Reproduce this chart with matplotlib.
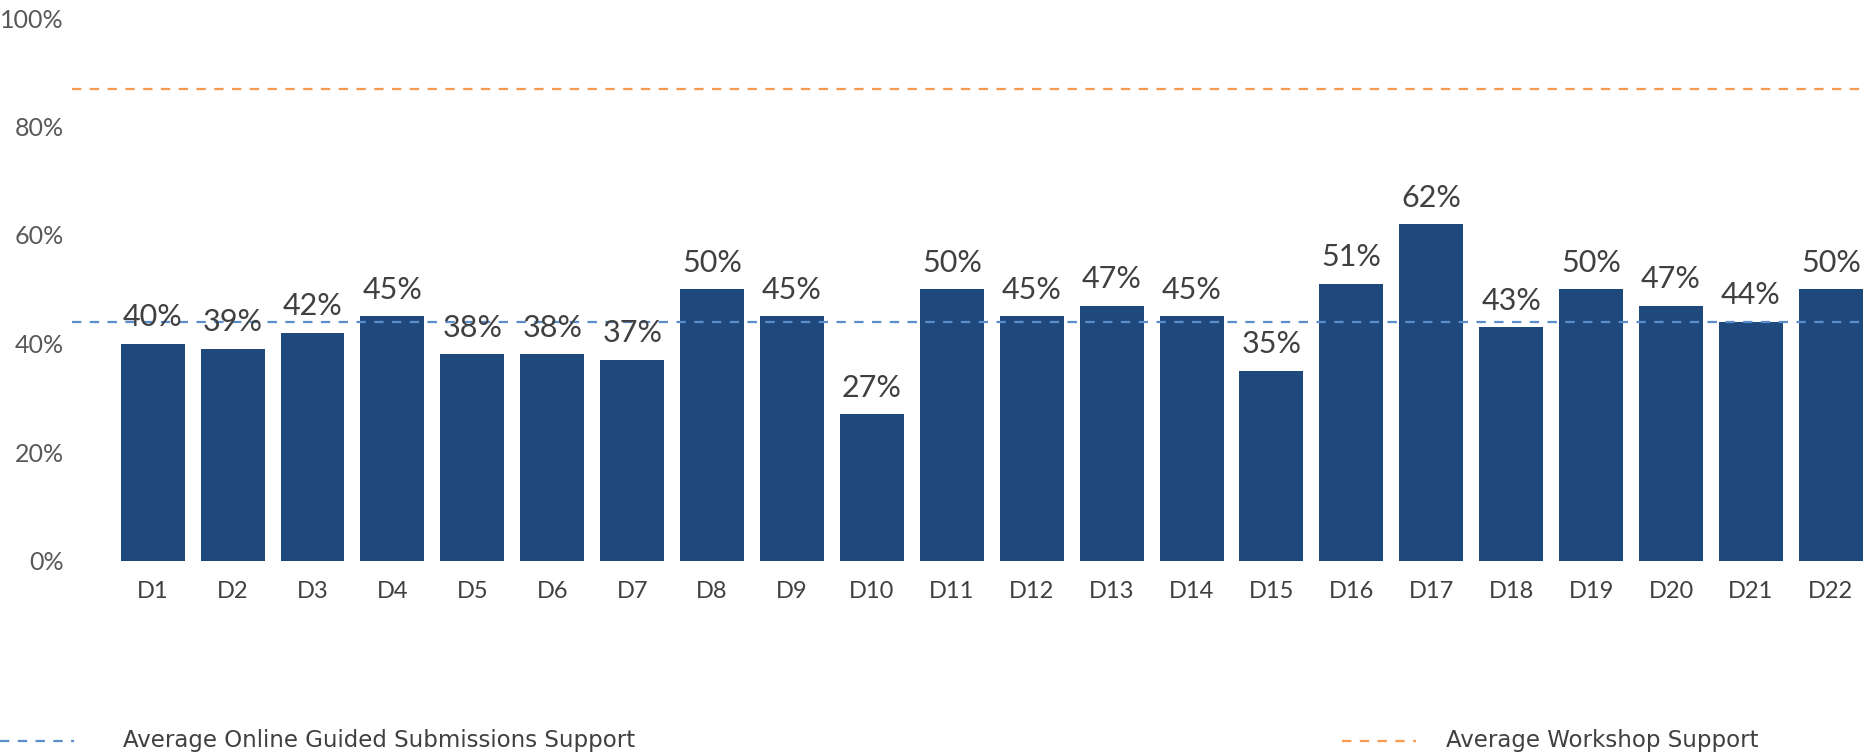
import matplotlib
matplotlib.use("Agg")
from matplotlib import pyplot as plt
from matplotlib.lines import Line2D

plt.rcParams['font.family'] = ['Lato', 'DejaVu Sans']

# chart data
districts = ['D1', 'D2', 'D3', 'D4', 'D5', 'D6', 'D7', 'D8', 'D9', 'D10', 'D11',
             'D12', 'D13', 'D14', 'D15', 'D16', 'D17', 'D18', 'D19', 'D20', 'D21', 'D22']
support = [40, 39, 42, 45, 38, 38, 37, 50, 45, 27, 50,
           45, 47, 45, 35, 51, 62, 43, 50, 47, 44, 50]
avg_online = 44
avg_workshop = 87
y_ticks = [0, 20, 40, 60, 80, 100]

bar_color = '#1f497d'
online_color = '#5b8ccc'
workshop_color = '#f79a4f'

W, H = 1866, 756
fig = plt.figure(figsize=(W / 100, H / 100), dpi=100)
# axes placed in pixel terms: 0% at y=560, 100% at y=18, x from 72 to right edge
ax = fig.add_axes([72 / W, (H - 560.5) / H, (W - 72) / W, (560.5 - 18) / H])

x = list(range(len(districts)))
ax.bar(x, support, width=0.8, color=bar_color, zorder=2)

ax.axhline(avg_workshop, color=workshop_color, lw=1.6, dashes=(4.2, 3.8), zorder=3)
ax.axhline(avg_online, color=online_color, lw=1.6, dashes=(4.2, 3.8), zorder=3)

for xi, v in zip(x, support):
    ax.annotate('{}%'.format(v), (xi, v), xytext=(0, 9), textcoords='offset points',
                ha='center', va='bottom', fontsize=22, color='#404040', zorder=4)

ax.set_xlim(-1.01, 21.44)
ax.set_ylim(0, 100)
ax.set_yticks(y_ticks)
ax.set_yticklabels(['{}%'.format(t) for t in y_ticks], fontsize=18, color='#595959')
ax.set_xticks(x)
ax.set_xticklabels(districts, fontsize=17, color='#404040')
ax.tick_params(axis='both', length=0)
ax.tick_params(axis='y', pad=6)
ax.tick_params(axis='x', pad=15)
for s in ax.spines.values():
    s.set_visible(False)

# legend drawn at the bottom, two entries far apart
ly = 1 - 741 / H
fig.add_artist(Line2D([0, 74 / W], [ly, ly], color=online_color, lw=1.6, dashes=(4.2, 3.8)))
fig.text(123 / W, ly, 'Average Online Guided Submissions Support', fontsize=16.5,
         family='DejaVu Sans', color='#404040', va='center', ha='left')
fig.add_artist(Line2D([1342 / W, 1416 / W], [ly, ly], color=workshop_color, lw=1.6, dashes=(4.2, 3.8)))
fig.text(1446 / W, ly, 'Average Workshop Support', fontsize=16.5,
         family='DejaVu Sans', color='#404040', va='center', ha='left')

fig.savefig('out.png', dpi=100)
